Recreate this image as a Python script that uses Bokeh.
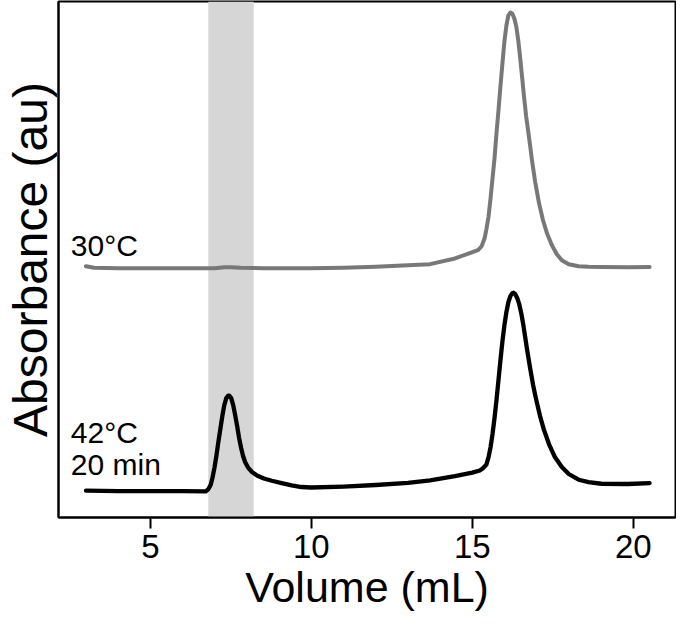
from bokeh.plotting import figure
from bokeh.models import BoxAnnotation, Label, FixedTicker
from bokeh.embed import file_html
from bokeh.resources import INLINE

# ---- data ----
gray_x = [3.0, 3.25, 4.0, 5.0, 6.0, 7.0, 7.3, 7.5, 7.8, 8.5, 10.0, 11.0, 12.0,
          13.0, 13.69, 14.46, 15.175, 15.289, 15.381, 15.443, 15.504, 15.566,
          15.627, 15.689, 15.750, 15.812, 15.873, 15.935, 15.996, 16.058,
          16.119, 16.181, 16.242, 16.304, 16.365, 16.427, 16.488, 16.550,
          16.611, 16.672, 16.765, 16.857, 16.949, 17.072, 17.195, 17.318,
          17.472, 17.625, 17.779, 17.994, 18.301, 18.609, 19.008, 19.838,
          20.505]
gray_y = [0.487, 0.484, 0.483, 0.483, 0.483, 0.483, 0.485, 0.485, 0.484, 0.483,
          0.483, 0.484, 0.486, 0.489, 0.491, 0.502, 0.518, 0.5257, 0.5411,
          0.5605, 0.5837, 0.6186, 0.6573, 0.6961, 0.7444, 0.7890, 0.8354,
          0.8800, 0.9226, 0.9535, 0.9729, 0.9787, 0.9768, 0.9671, 0.9516,
          0.9245, 0.8896, 0.8509, 0.8122, 0.7773, 0.7348, 0.6902, 0.6515,
          0.6089, 0.5760, 0.5508, 0.5276, 0.5102, 0.4985, 0.4908, 0.4869,
          0.486, 0.4855, 0.4850, 0.4855]

black_x = [3.0, 4.0, 5.0, 6.0, 6.721, 6.804, 6.875, 6.927, 6.989, 7.050, 7.112,
           7.173, 7.235, 7.296, 7.358, 7.419, 7.450, 7.511, 7.573, 7.634,
           7.696, 7.757, 7.819, 7.880, 7.942, 8.034, 8.157, 8.311, 8.526,
           8.772, 9.079, 9.387, 9.694, 10.001, 11.0, 12.0, 13.0, 13.69, 14.46,
           15.0, 15.23, 15.320, 15.433, 15.504, 15.566, 15.627, 15.689, 15.750,
           15.812, 15.873, 15.935, 15.996, 16.058, 16.119, 16.181, 16.242,
           16.282, 16.334, 16.396, 16.457, 16.519, 16.580, 16.642, 16.703,
           16.795, 16.888, 16.980, 17.103, 17.226, 17.380, 17.564, 17.779,
           17.994, 18.301, 18.609, 19.008, 19.838, 20.505]
black_y = [0.052, 0.051, 0.051, 0.051, 0.0507, 0.0552, 0.0635, 0.0765, 0.0958,
           0.1191, 0.1462, 0.1713, 0.1965, 0.2178, 0.2314, 0.2362, 0.2362,
           0.2314, 0.2178, 0.1985, 0.1772, 0.1539, 0.1346, 0.1191, 0.1075,
           0.0968, 0.0881, 0.0813, 0.0755, 0.0712, 0.0668, 0.0623, 0.0591,
           0.0581, 0.060, 0.063, 0.067, 0.072, 0.080, 0.087, 0.091, 0.0949,
           0.1022, 0.1171, 0.1365, 0.1617, 0.1926, 0.2275, 0.2662, 0.3049,
           0.3417, 0.3727, 0.3979, 0.4172, 0.4289, 0.4347, 0.4356, 0.4327,
           0.4250, 0.4134, 0.3960, 0.3746, 0.3495, 0.3243, 0.2895, 0.2565,
           0.2294, 0.1965, 0.1694, 0.1423, 0.1171, 0.0978, 0.0843, 0.0732,
           0.0687, 0.0654, 0.0649, 0.0668]

x_ticks = [5, 10, 15, 20]
shade_range = (6.8, 8.21)
labels_30 = ["30°C"]
labels_42 = ["42°C", "20 min"]

FONT = "Liberation Sans"

p = figure(width=676, height=613, x_range=(2.147, 21.31), y_range=(0, 1),
           output_backend="svg", toolbar_location=None,
           min_border_left=57, min_border_right=1, min_border_top=1,
           min_border_bottom=10)

p.xgrid.visible = False
p.ygrid.visible = False
p.outline_line_color = "black"
p.outline_line_width = 2
p.outline_line_alpha = 1
p.background_fill_color = "white"
p.border_fill_color = "white"

shade = BoxAnnotation(left=shade_range[0], right=shade_range[1],
                      fill_color="#d6d6d6", fill_alpha=1.0, line_alpha=0,
                      level="underlay")
p.add_layout(shade)

p.line(gray_x, gray_y, line_color="#787878", line_width=4,
       line_join="round", line_cap="round")
p.line(black_x, black_y, line_color="black", line_width=4.3,
       line_join="round", line_cap="round")

# x axis
p.xaxis.ticker = FixedTicker(ticks=x_ticks)
p.xaxis.minor_tick_line_color = None
p.xaxis.major_tick_in = 0
p.xaxis.major_tick_out = 11
p.xaxis.major_tick_line_width = 2
p.xaxis.axis_line_width = 2
p.xaxis.major_label_text_font = FONT
p.xaxis.major_label_text_font_size = "33px"
p.xaxis.major_label_text_color = "black"
p.xaxis.major_label_standoff = 6
p.xaxis.axis_label = "Volume (mL)"
p.xaxis.axis_label_text_font = FONT
p.xaxis.axis_label_text_font_size = "43px"
p.xaxis.axis_label_text_font_style = "normal"
p.xaxis.axis_label_text_color = "black"
p.xaxis.axis_label_standoff = 2

# y axis
p.yaxis.ticker = FixedTicker(ticks=[])
p.yaxis.minor_tick_line_color = None
p.yaxis.major_tick_out = 0
p.yaxis.major_tick_in = 0
p.yaxis.axis_line_width = 2
p.yaxis.major_label_text_font_size = "0px"
p.yaxis.axis_label = "Absorbance (au)"
p.yaxis.axis_label_text_font = FONT
p.yaxis.axis_label_text_font_size = "48px"
p.yaxis.axis_label_text_font_style = "normal"
p.yaxis.axis_label_text_color = "black"
p.yaxis.axis_label_standoff = 2

# curve labels
p.add_layout(Label(x=2.53, y=0.528, text=labels_30[0], text_font=FONT,
                   text_font_size="30px", text_color="black",
                   text_baseline="alphabetic", text_align="left"))
p.add_layout(Label(x=2.53, y=0.164, text=labels_42[0], text_font=FONT,
                   text_font_size="30px", text_color="black",
                   text_baseline="alphabetic", text_align="left"))
p.add_layout(Label(x=2.53, y=0.102, text=labels_42[1], text_font=FONT,
                   text_font_size="30px", text_color="black",
                   text_baseline="alphabetic", text_align="left"))

open("out.html", "w").write(file_html(p, INLINE))
